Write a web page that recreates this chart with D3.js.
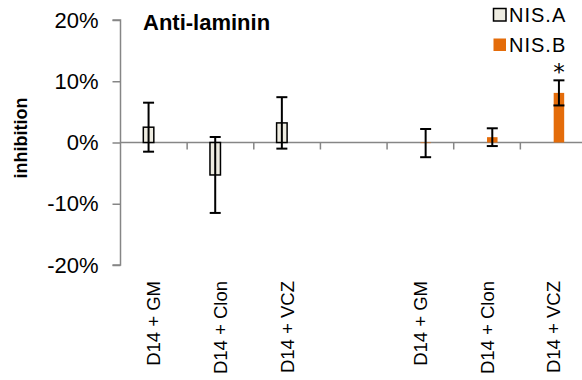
<!DOCTYPE html>
<html>
<head>
<meta charset="utf-8">
<script src="https://cdn.jsdelivr.net/npm/d3@7"></script>
<style>
  html, body { margin: 0; padding: 0; background: #fff; }
  svg { display: block; font-family: "Liberation Sans", Arial, sans-serif; }
</style>
</head>
<body>
<svg id="chart" width="582" height="380"></svg>
<script>
// Treatments (the blank slot separates the two strain groups)
const categories = ["D14 + GM", "D14 + Clon", "D14 + VCZ", "", "D14 + GM", "D14 + Clon", "D14 + VCZ"];
// Mean inhibition (%) and error (%) per series; null = no value
const nisA    = [2.5, -5.3, 3.2, null, null, null, null];
const nisAErr = [4.0, 6.2, 4.2, null, null, null, null];
const nisB    = [null, null, null, null, -0.1, 0.87, 8.1];
const nisBErr = [null, null, null, null, 2.3, 1.45, 2.05];
const significant = [false, false, false, false, false, false, true];
const yTicks = [-20, -10, 0, 10, 20];
const seriesNames = ["NIS.A", "NIS.B"];

const svg = d3.select("#chart");
const axisGrey = "#868686";
const colors = { "NIS.A": "#EEECE1", "NIS.B": "#E46C0A" };

const y = d3.scaleLinear().domain([-20, 20]).range([265, 20]);
const x = d3.scaleBand().domain(d3.range(categories.length)).range([120.5, 587]).paddingInner(0).paddingOuter(0);
const sub = d3.scaleBand().domain(seriesNames).range([-10.5, 10.5]);

// y axis
const yAxis = d3.axisLeft(y).tickValues(yTicks).tickSize(8).tickPadding(14)
  .tickFormat(d => d + "%");
const gy = svg.append("g").attr("transform", "translate(120.5,0)").call(yAxis);
gy.select(".domain").attr("stroke", axisGrey).attr("stroke-width", 1.5).attr("d", "M-8,20H0V265H-8");
gy.selectAll(".tick line").attr("stroke", axisGrey).attr("stroke-width", 1.5);
gy.selectAll(".tick text").attr("font-size", 22).attr("fill", "#000")
  .attr("font-family", "'Liberation Sans', Arial, sans-serif");

// x axis along zero with boundary ticks
const zeroY = y(0);
svg.append("line").attr("x1", 120.5).attr("x2", 582).attr("y1", zeroY).attr("y2", zeroY)
  .attr("stroke", axisGrey).attr("stroke-width", 1.5);
svg.append("g").selectAll("line").data(d3.range(1, categories.length)).join("line")
  .attr("x1", i => x(i)).attr("x2", i => x(i))
  .attr("y1", zeroY).attr("y2", zeroY + 7)
  .attr("stroke", axisGrey).attr("stroke-width", 1.5);

// category labels, rotated, at the bottom
svg.append("g").selectAll("text").data(categories.map((c, i) => ({ c, i })).filter(d => d.c)).join("text")
  .attr("transform", d => `translate(${x(d.i) + x.bandwidth() / 2},281) rotate(-90)`)
  .attr("text-anchor", "end").attr("dy", "0.35em")
  .attr("font-size", 18.5).attr("fill", "#000")
  .text(d => d.c);

// series records
const records = [];
categories.forEach((c, i) => {
  if (nisA[i] != null) records.push({ i, s: "NIS.A", v: nisA[i], e: nisAErr[i] });
  if (nisB[i] != null) records.push({ i, s: "NIS.B", v: nisB[i], e: nisBErr[i] });
});
const cx = d => x(d.i) + x.bandwidth() / 2 + sub(d.s) + sub.bandwidth() / 2;

// bars
svg.append("g").selectAll("rect").data(records).join("rect")
  .attr("x", d => x(d.i) + x.bandwidth() / 2 + sub(d.s))
  .attr("width", sub.bandwidth())
  .attr("y", d => Math.min(y(d.v), y(0)))
  .attr("height", d => Math.abs(y(d.v) - y(0)))
  .attr("fill", d => colors[d.s])
  .attr("stroke", d => d.s === "NIS.A" ? "#000" : "none")
  .attr("stroke-width", 1.5);

// error bars
const eg = svg.append("g").attr("stroke", "#000").attr("stroke-width", 2);
records.forEach(d => {
  const xc = cx(d), top = y(d.v + d.e), bot = y(d.v - d.e);
  eg.append("line").attr("x1", xc).attr("x2", xc).attr("y1", top).attr("y2", bot);
  eg.append("line").attr("x1", xc - 5.5).attr("x2", xc + 5.5).attr("y1", top).attr("y2", top);
  eg.append("line").attr("x1", xc - 5.5).attr("x2", xc + 5.5).attr("y1", bot).attr("y2", bot);
});

// significance marker
svg.append("g").selectAll("text").data(records.filter(d => significant[d.i] && d.s === "NIS.B")).join("text")
  .attr("x", d => cx(d)).attr("y", d => y(d.v + d.e) - 0.5)
  .attr("text-anchor", "middle").attr("font-size", 23).attr("fill", "#000")
  .attr("font-family", "'DejaVu Sans', sans-serif")
  .text("*");

// title
svg.append("text").attr("x", 143).attr("y", 30)
  .attr("font-size", 22).attr("font-weight", "bold").attr("fill", "#000")
  .text("Anti-laminin");

// y axis title
svg.append("text").attr("transform", "translate(21,138) rotate(-90)")
  .attr("text-anchor", "middle").attr("dy", "0.35em")
  .attr("font-size", 18).attr("font-weight", "bold").attr("fill", "#000")
  .text("inhibition");

// legend
const lg = svg.append("g").selectAll("g").data(seriesNames).join("g")
  .attr("transform", (d, k) => `translate(493.5,${8.5 + k * 30})`);
lg.append("rect").attr("width", 12.5).attr("height", 12.5)
  .attr("fill", d => colors[d])
  .attr("stroke", d => d === "NIS.A" ? "#000" : "none").attr("stroke-width", 1.5);
lg.append("text").attr("x", 15.5).attr("y", 13)
  .attr("font-size", 20).attr("letter-spacing", 1).attr("fill", "#000")
  .text(d => d);
</script>
</body>
</html>
